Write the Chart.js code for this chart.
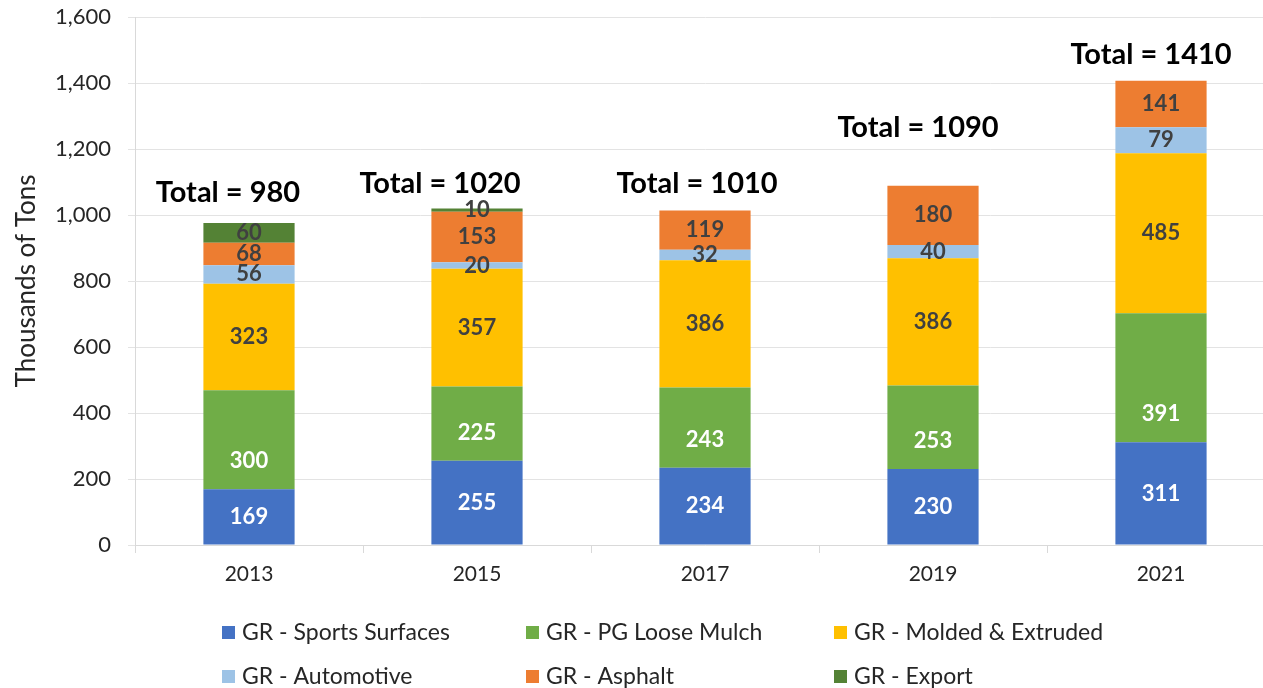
<!DOCTYPE html>
<html>
<head>
<meta charset="utf-8">
<script src="https://cdn.jsdelivr.net/npm/chart.js@4.4.0/dist/chart.umd.min.js"></script>
<style>
  html, body { margin: 0; padding: 0; overflow: hidden; background: #fff; }
  #wrap { width: 1290px; height: 688px; }
</style>
</head>
<body>
<div id="wrap"><canvas id="chart" width="1290" height="688"></canvas></div>
<script>
const years = ['2013', '2015', '2017', '2019', '2021'];
const sports = [169, 255, 234, 230, 311];
const mulch = [300, 225, 243, 253, 391];
const molded = [323, 357, 386, 386, 485];
const automotive = [56, 20, 32, 40, 79];
const asphalt = [68, 153, 119, 180, 141];
const exportGR = [60, 10, 0, 0, 0];
const totalLabels = ['Total = 980', 'Total = 1020', 'Total = 1010', 'Total = 1090', 'Total = 1410'];

const FONT = 'Lato, "Noto Sans", sans-serif';

// labels inside each segment
const segLabels = {
  id: 'segLabels',
  afterDatasetsDraw(chart) {
    const ctx = chart.ctx;
    ctx.save();
    ctx.font = 'bold 22px ' + FONT;
    ctx.textAlign = 'center';
    ctx.textBaseline = 'middle';
    chart.data.datasets.forEach((ds, i) => {
      const meta = chart.getDatasetMeta(i);
      meta.data.forEach((bar, j) => {
        const v = ds.data[j];
        if (!v) return;
        const y = ds.labelAtBase ? bar.base - 28 : (bar.y + bar.base) / 2;
        ctx.fillStyle = ds.labelColor;
        ctx.fillText(v, bar.x, y);
      });
    });
    ctx.restore();
  }
};

// "Total = ..." text boxes above the stacks
const totalsPlugin = {
  id: 'totals',
  afterDraw(chart) {
    const ctx = chart.ctx, xs = chart.scales.x, ys = chart.scales.y;
    const dx = [-21, -37, -8, -15, -10];
    const dy = [30, 25, 27, 58, 26];
    ctx.save();
    ctx.font = 'bold 29px ' + FONT;
    ctx.fillStyle = '#000';
    ctx.textAlign = 'center';
    ctx.textBaseline = 'middle';
    years.forEach((yr, j) => {
      let sum = 0;
      chart.data.datasets.forEach(ds => { sum += ds.data[j]; });
      const top = ys.getPixelForValue(sum);
      ctx.fillText(totalLabels[j], xs.getPixelForValue(j) + dx[j], top - dy[j]);
    });
    ctx.restore();
  }
};

// two-row legend with fixed columns
const gridLegend = {
  id: 'gridLegend',
  afterDraw(chart) {
    const ctx = chart.ctx;
    const cols = [222, 526, 834];
    const rows = [87, 131];
    ctx.save();
    ctx.font = '23px ' + FONT;
    ctx.textBaseline = 'middle';
    chart.data.datasets.forEach((ds, i) => {
      const x = cols[i % 3];
      const y = chart.chartArea.bottom + rows[Math.floor(i / 3)];
      ctx.fillStyle = ds.backgroundColor;
      ctx.fillRect(x, y - 6, 13, 13);
      ctx.fillStyle = '#262626';
      ctx.fillText(ds.label, x + 20, y + 1);
    });
    ctx.restore();
  }
};

new Chart(document.getElementById('chart'), {
  type: 'bar',
  data: {
    labels: years,
    datasets: [
      { label: 'GR - Sports Surfaces', data: sports, backgroundColor: '#4472C4', labelColor: '#fff' },
      { label: 'GR - PG Loose Mulch', data: mulch, backgroundColor: '#70AD47', labelColor: '#fff', labelAtBase: true },
      { label: 'GR - Molded & Extruded', data: molded, backgroundColor: '#FFC000', labelColor: '#404040' },
      { label: 'GR - Automotive', data: automotive, backgroundColor: '#9DC3E6', labelColor: '#404040' },
      { label: 'GR - Asphalt', data: asphalt, backgroundColor: '#ED7D31', labelColor: '#404040' },
      { label: 'GR - Export', data: exportGR, backgroundColor: '#548235', labelColor: '#404040' }
    ]
  },
  options: {
    responsive: false,
    animation: false,
    datasets: { bar: { categoryPercentage: 1, barPercentage: 0.4 } },
    layout: { padding: { top: 17, right: 15, bottom: 93, left: 0 } },
    plugins: { legend: { display: false }, tooltip: { enabled: false } },
    scales: {
      x: {
        stacked: true,
        grid: { offset: true, drawOnChartArea: false, tickLength: 8, color: '#d9d9d9' },
        border: { color: '#d9d9d9' },
        ticks: { color: '#262626', font: { family: FONT, size: 21 }, padding: 9 },
        afterFit: s => { s.height = 50; }
      },
      y: {
        stacked: true,
        min: 0, max: 1600,
        grid: { color: '#e3e3e3', tickLength: 7 },
        border: { color: '#d9d9d9' },
        ticks: {
          stepSize: 200, color: '#262626', padding: 17,
          font: { family: FONT, size: 22 },
          callback: v => Number(v).toLocaleString('en-US')
        },
        title: {
          display: true, text: 'Thousands of Tons', color: '#262626',
          font: { family: FONT, size: 26 }, padding: { top: 11, bottom: 0 }
        },
        afterFit: s => { s.width = 135; s.paddingTop = 0; s.paddingBottom = 0; }
      }
    }
  },
  plugins: [segLabels, totalsPlugin, gridLegend]
});
</script>
</body>
</html>
